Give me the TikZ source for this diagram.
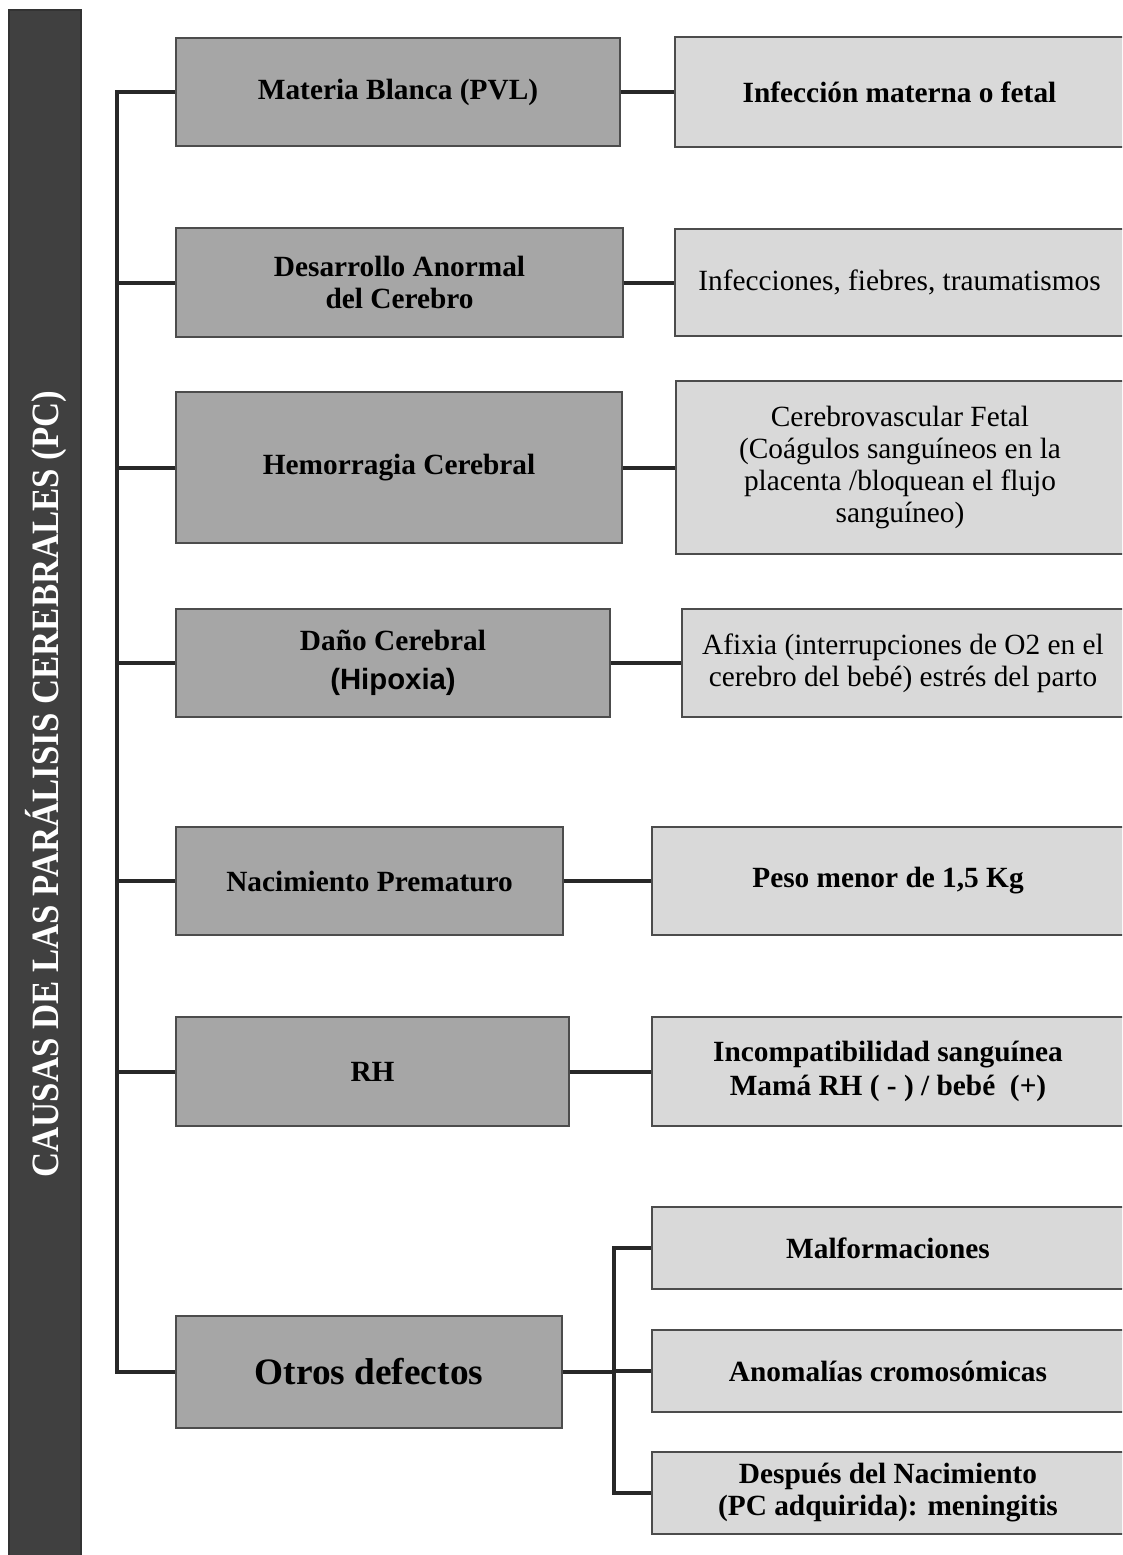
\documentclass[tikz,border=0pt]{standalone}
\usepackage{fontspec}
\setmainfont{Liberation Serif}
\newfontfamily\arialfont{Liberation Sans}
\usepackage{tikz}
\usetikzlibrary{positioning}

\definecolor{barcol}{RGB}{64,64,64}
\definecolor{causecol}{RGB}{166,166,166}
\definecolor{effcol}{RGB}{217,217,217}
\definecolor{linecol}{RGB}{40,40,40}

\begin{document}
\begin{tikzpicture}[x=0.75pt, y=-0.75pt,
        cause/.style = {draw=black!70, line width=0.9pt, fill=causecol, inner sep=0pt, align=center,
                        font=\fontsize{22}{24}\selectfont\bfseries},
        effect/.style = {draw=black!70, line width=0.9pt, fill=effcol, inner sep=0pt, align=center,
                        font=\fontsize{22}{24}\selectfont},
        conn/.style = {draw=linecol, line width=3pt}]
            \useasboundingbox (0,0) rectangle (1122,1555);
            \clip (0,0) rectangle (1122,1555);

            % title bar
            \node[draw=black!80, line width=0.9pt, fill=barcol, inner sep=0pt,
                  minimum width=54pt, minimum height=1162.5pt] (bar) at (45,785) {};
            \node[rotate=90, text=white, font=\fontsize{29}{30}\selectfont\bfseries] (title) at (46,784)
                {\scalebox{0.9}[1]{CAUSAS DE LAS PARÁLISIS CEREBRALES (PC)}};

            % causes
            \node[cause, minimum width=333pt, minimum height=81pt] (mat) at (398,92) {Materia Blanca (PVL)};
            \node[cause, minimum width=335.25pt, minimum height=81.75pt] (des) at (399.5,282.5) {Desarrollo Anormal\\del Cerebro};
            \node[cause, minimum width=334.5pt, minimum height=113.25pt] (hem) at (399,467.5) {Hemorragia Cerebral};
            \node[cause, minimum width=325.5pt, minimum height=81pt] (dan) at (393,663) {Daño Cerebral\\[5pt]{\arialfont(Hipoxia)}};
            \node[cause, minimum width=290.25pt, minimum height=81pt] (nac) at (369.5,881) {Nacimiento Prematuro};
            \node[cause, minimum width=294.75pt, minimum height=81.75pt] (rh) at (372.5,1071.5) {RH};
            \node[cause, minimum width=289.5pt, minimum height=84pt, font=\fontsize{28}{30}\selectfont\bfseries] (otr) at (369,1372) {Otros defectos};

            % effects
            \node[effect, minimum width=336.75pt, minimum height=82.5pt, font=\fontsize{22}{24}\selectfont\bfseries] (inf) at (899.5,92) {Infección materna o fetal};
            \node[effect, minimum width=336.75pt, minimum height=80.25pt] (ifb) at (899.5,282.5) {Infecciones, fiebres, traumatismos};
            \node[effect, minimum width=336pt, minimum height=129.75pt] (cer) at (900,467.5) {Cerebrovascular Fetal\\(Coágulos sanguíneos en la\\placenta /bloquean el flujo\\sanguíneo)};
            \node[effect, minimum width=331.5pt, minimum height=81pt] (afx) at (903,663) {Afixia (interrupciones de O2 en el\\cerebro del bebé) estrés del parto};
            \node[effect, minimum width=354pt, minimum height=81pt, font=\fontsize{22}{24}\selectfont\bfseries] (pes) at (888,881) {Peso menor de 1,5 Kg};
            \node[effect, minimum width=354pt, minimum height=81.75pt, font=\fontsize{22}{25.5}\selectfont\bfseries] (inc) at (888,1071.5) {Incompatibilidad sanguínea\\Mamá RH ( - ) / bebé~~(+)};
            \node[effect, minimum width=354pt, minimum height=61.5pt, font=\fontsize{22}{24}\selectfont\bfseries] (mal) at (888,1248) {Malformaciones};
            \node[effect, minimum width=354pt, minimum height=61.5pt, font=\fontsize{22}{24}\selectfont\bfseries] (ano) at (888,1371) {Anomalías cromosómicas};
            \node[effect, minimum width=354pt, minimum height=61.5pt, font=\fontsize{22}{24}\selectfont\bfseries] (desp) at (888,1493) {Después del Nacimiento\\(PC adquirida): meningitis};

            % trunk
            \coordinate (bus) at (117,1372);
            \draw[conn] (mat.west) -| (bus) -- (otr.west);
            \foreach \n in {des,hem,dan,nac,rh}
                \draw[conn] (\n.west) -- (\n.west -| bus);

            % cause to effect
            \draw[conn] (mat.east) -- (inf.west);
            \draw[conn] (des.east) -- (ifb.west);
            \draw[conn] (hem.east) -- (cer.west);
            \draw[conn] (dan.east) -- (afx.west);
            \draw[conn] (nac.east) -- (pes.west);
            \draw[conn] (rh.east) -- (inc.west);

            % otros defectos
            \coordinate (sub) at (614,1493);
            \draw[conn] (mal.west) -| (sub) -- (desp.west);
            \draw[conn] (otr.east) -- (otr.east -| sub);
            \draw[conn] (ano.west) -- (ano.west -| sub);

        \end{tikzpicture}
\end{document}
